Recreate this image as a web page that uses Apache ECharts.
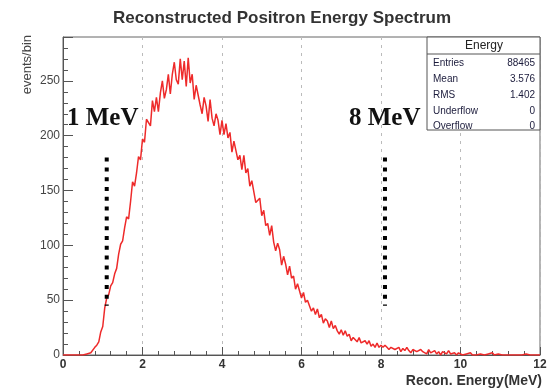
<!DOCTYPE html>
<html>
<head>
<meta charset="utf-8">
<script src="https://cdn.jsdelivr.net/npm/echarts@6/dist/echarts.min.js"></script>
<style>
  html, body { margin: 0; padding: 0; background: #fff; }
  #chart { width: 552px; height: 390px; }
</style>
</head>
<body>
<div id="chart"></div>
<script>
// 能谱数据：每 0.05 MeV 一个 bin
const binWidth = 0.05;
const counts = [
  0, 0, 0, 0, 0, 0, 0, 0, 0, 0, 0, 0, 1, 0, 2, 3, 7, 9, 12,
  21, 26, 43, 52, 55, 63, 66, 74, 79, 92, 101, 104, 116, 126, 124, 140, 158, 154, 166, 181, 178, 197,
  194, 215, 214, 209, 232, 222, 235, 222, 239, 250, 234, 242, 256, 238, 256, 267, 251, 247, 270, 251,
  268, 245, 271, 248, 256, 233, 246, 246, 228, 220, 235, 227, 213, 233, 216, 209, 220, 214, 201, 214,
  201, 211, 198, 203, 185, 195, 195, 178, 182, 169, 182, 166, 170, 154, 159, 160, 139, 139, 143, 127,
  132, 118, 120, 109, 118, 103, 95, 102, 96, 82, 90, 83, 73, 81, 70, 72, 60, 65, 65, 52,
  57, 48, 50, 51, 40, 43, 37, 42, 34, 37, 29, 33, 31, 25, 31, 24, 27, 22, 19, 23,
  18, 22, 17, 19, 13, 16, 17, 12, 16, 11, 10, 13, 10, 13, 8, 10, 7, 11, 7, 9,
  7, 9, 7, 5, 7, 8, 5, 6, 7, 3, 6, 4, 7, 4, 2, 5, 6, 3, 2, 5,
  3, 4, 1, 5, 2, 2, 4, 1, 3, 0, 3, 2, 1, 4, 1, 0, 2, 0, 2, 1,
  0, 1, 1, 0, 2, 0, 1, 0, 0, 1, 1, 0, 0, 1, 0, 2, 0, 0, 1, 0,
  0, 1, 0, 0, 0, 1, 0, 1, 0, 0, 0, 0, 1, 0, 0, 0, 0, 0, 0, 0
];
const energy = counts.map((c, i) => +(i * binWidth).toFixed(2));

// 虚线标记 (1 MeV, 8 MeV)
const markerX = [1.1, 8.1];
const markerY = [45, 180];
const markerText = ["1 MeV", "8 MeV"];

// 统计框
const statsTitle = "Energy";
const statsNames = ["Entries", "Mean", "RMS", "Underflow", "Overflow"];
const statsValues = ["88465", "3.576", "1.402", "0", "0"];

const chart = echarts.init(document.getElementById("chart"));

const statsRowY = [63, 79, 95, 111, 126];
const statsGraphic = [
  { type: "rect", shape: { x: 427, y: 37, width: 113, height: 93 },
    style: { fill: "#fff", stroke: "#555", lineWidth: 1 }, z: 10 },
  { type: "line", shape: { x1: 427, y1: 54, x2: 540, y2: 54 },
    style: { stroke: "#555", lineWidth: 1 }, z: 11 },
  { type: "text", x: 484, y: 46, z: 11,
    style: { text: statsTitle, font: "12px 'Liberation Sans'", fill: "#222", align: "center", verticalAlign: "middle" } }
];
statsNames.forEach((n, i) => {
  statsGraphic.push({ type: "text", x: 433, y: statsRowY[i], z: 11,
    style: { text: n, font: "10px 'Liberation Sans'", fill: "#1c1c3c", align: "left", verticalAlign: "middle" } });
  statsGraphic.push({ type: "text", x: 535, y: statsRowY[i], z: 11,
    style: { text: statsValues[i], font: "10px 'Liberation Sans'", fill: "#1c1c3c", align: "right", verticalAlign: "middle" } });
});

const option = {
  animation: false,
  title: {
    text: "Reconstructed Positron Energy Spectrum",
    left: 277,
    textAlign: "center",
    top: 5,
    textStyle: { fontFamily: "Liberation Sans", fontWeight: "bold", fontSize: 17, color: "#333" }
  },
  grid: { left: 63, right: 12, top: 37, bottom: 35, show: true, borderColor: "#666", borderWidth: 1 },
  xAxis: {
    type: "value", min: 0, max: 12, interval: 2,
    axisLine: { lineStyle: { color: "#555" } },
    axisTick: { inside: true, length: 8, lineStyle: { color: "#555" } },
    minorTick: { show: true, splitNumber: 5, length: 4, lineStyle: { color: "#555" } },
    axisLabel: { color: "#333", fontFamily: "Liberation Sans", fontSize: 12, fontWeight: "bold", margin: 4 },
    splitLine: { show: true, lineStyle: { color: "#bbb", type: [3, 5] } }
  },
  yAxis: {
    type: "value", min: 0, max: 290, interval: 50,
    axisLine: { show: true, lineStyle: { color: "#555" } },
    axisTick: { show: true, inside: true, length: 10, lineStyle: { color: "#555" } },
    minorTick: { show: true, splitNumber: 5, length: 5, lineStyle: { color: "#555" } },
    axisLabel: { color: "#444", fontFamily: "Liberation Sans", fontSize: 12, margin: 3, showMaxLabel: false },
    splitLine: { show: false }
  },
  graphic: [
    { type: "text", x: 27, y: 35, rotation: Math.PI / 2, z: 5,
      style: { text: "events/bin", font: "13px 'Liberation Sans'", fill: "#444", align: "right", verticalAlign: "middle" } },
    { type: "text", x: 542, y: 381, z: 5,
      style: { text: "Recon. Energy(MeV)", font: "bold 14px 'Liberation Sans'", fill: "#333", align: "right", verticalAlign: "middle" } },
    { type: "text", x: 67, y: 119, z: 5,
      style: { text: markerText[0], font: "bold 25px 'Liberation Serif'", fill: "#111", align: "left", verticalAlign: "middle" } },
    { type: "text", x: 349, y: 119, z: 5,
      style: { text: markerText[1], font: "bold 25px 'Liberation Serif'", fill: "#111", align: "left", verticalAlign: "middle" } }
  ].concat(statsGraphic),
  series: [
    {
      type: "line",
      data: energy.map((e, i) => [e, counts[i]]),
      showSymbol: false,
      lineStyle: { color: "#ee2a2a", width: 1.5 },
      z: 3
    }
  ].concat(markerX.map((x) => ({
    type: "line",
    data: [[x, markerY[1]], [x, markerY[0]]],
    showSymbol: false,
    lineStyle: { color: "#000", width: 4, type: [4, 5.8], cap: "butt" },
    z: 4
  })))
};

chart.setOption(option);
</script>
</body>
</html>
